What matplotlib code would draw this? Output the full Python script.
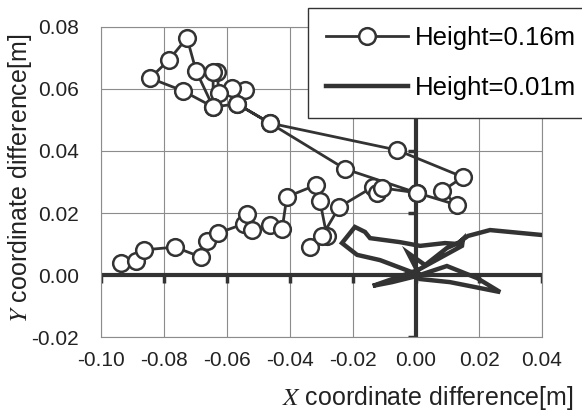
import matplotlib
matplotlib.use("Agg")
import matplotlib.pyplot as plt
from matplotlib.ticker import FormatStrFormatter

plt.rcParams['font.family'] = ['Liberation Sans', 'DejaVu Sans']
plt.rcParams['mathtext.fontset'] = 'stix'

# Height=0.16m (open circles)
x_016 = [-0.0937, -0.0889, -0.0864, -0.0765, -0.0683, -0.0664, -0.0629, -0.0546,
         -0.0537, -0.0521, -0.0464, -0.0425, -0.0410, -0.0318, -0.0305, -0.0283,
         -0.0337, -0.0298, -0.0244, -0.0137, -0.0124, -0.0108, 0.0003, 0.0130,
         0.0083, 0.0149, -0.0060, -0.0464, -0.0568, -0.0543, -0.0584, -0.0625,
         -0.0632, -0.0644, -0.0644, -0.0698, -0.0727, -0.0784, -0.0844, -0.0740,
         -0.0644, -0.0568, -0.0464, -0.0225, 0.0003]
y_016 = [0.0039, 0.0045, 0.0081, 0.0090, 0.0058, 0.0110, 0.0135, 0.0165,
         0.0197, 0.0145, 0.0161, 0.0148, 0.0252, 0.0290, 0.0239, 0.0126,
         0.0090, 0.0126, 0.0219, 0.0284, 0.0265, 0.0281, 0.0265, 0.0226,
         0.0271, 0.0316, 0.0403, 0.0490, 0.0552, 0.0597, 0.0603, 0.0587,
         0.0655, 0.0655, 0.0542, 0.0658, 0.0765, 0.0694, 0.0635, 0.0594,
         0.0542, 0.0552, 0.0490, 0.0342, 0.0265]

# Height=0.01m (thick line)
x_001 = [0.0003, -0.0114, -0.0187, -0.0235, -0.0194, -0.0162, -0.0146, -0.0051,
         0.0013, 0.0092, 0.0133, 0.0149, 0.0146, 0.0076, 0.0006, -0.0137,
         -0.0076, 0.0003, 0.0098, 0.0194, 0.0267, 0.0108, 0.0013, 0.0006,
         -0.0025, 0.0029, 0.0098, 0.0133, 0.0165, 0.0235, 0.0400]
y_001 = [0.0003, 0.0048, 0.0065, 0.0103, 0.0155, 0.0139, 0.0119, 0.0106,
         0.0094, 0.0103, 0.0100, 0.0116, 0.0094, 0.0055, 0.0016, -0.0035,
         -0.0023, -0.0003, 0.0029, -0.0010, -0.0055, -0.0023, -0.0013, 0.0010,
         0.0071, 0.0032, 0.0087, 0.0103, 0.0126, 0.0145, 0.0129]

xticks = [-0.10, -0.08, -0.06, -0.04, -0.02, 0.00, 0.02, 0.04]
yticks = [-0.02, 0.00, 0.02, 0.04, 0.06, 0.08]

ink = '#333333'
gridc = '#8c8c8c'

fig = plt.figure(figsize=(5.82, 4.12), dpi=100)
ax = fig.add_axes([0.1735, 0.182, 0.7578, 0.7525])

ax.set_xlim(-0.10, 0.04)
ax.set_ylim(-0.02, 0.08)
ax.set_xticks(xticks)
ax.set_yticks(yticks)
ax.xaxis.set_major_formatter(FormatStrFormatter('%.2f'))
ax.yaxis.set_major_formatter(FormatStrFormatter('%.2f'))
ax.grid(True, color=gridc, lw=0.8)
ax.set_axisbelow(True)
for s in ax.spines.values():
    s.set_color(gridc)
    s.set_linewidth(0.8)
ax.tick_params(length=0, labelsize=15, colors='#222222')
ax.tick_params(axis='y', pad=16)
ax.tick_params(axis='x', pad=10)

# zero axes with small tick stubs
ax.axhline(0, color=ink, lw=3, zorder=2)
ax.axvline(0, color=ink, lw=3, zorder=2)
ax.plot(xticks, [0] * len(xticks), ls='none', marker=3, ms=6, mew=2.5, color=ink, zorder=2)
ax.plot([0] * len(yticks), yticks, ls='none', marker=0, ms=6, mew=2.5, color=ink, zorder=2)

ax.plot(x_001, y_001, color=ink, lw=3.2, solid_joinstyle='miter', zorder=3,
        label='Height=0.01m')
ax.plot(x_016, y_016, color=ink, lw=2, marker='o', ms=12, mfc='white', mec=ink,
        mew=1.8, zorder=4, label='Height=0.16m')

h, l = ax.get_legend_handles_labels()
leg = fig.legend(h[::-1], l[::-1], loc='upper left',
                 bbox_to_anchor=(308 / 582, 1 - 8 / 412), fontsize=18.5,
                 frameon=True, fancybox=False, framealpha=1, edgecolor=ink,
                 handlelength=3.2, handletextpad=0.27, labelspacing=1.0,
                 borderpad=0.7, numpoints=1, borderaxespad=0)
leg.get_frame().set_linewidth(1)

fig.text(573 / 582, 1 - 398 / 412, '$X$ coordinate difference[m]',
         ha='right', va='center', fontsize=18, color='#222222')
fig.text(20 / 582, 1 - 178 / 412, '$Y$ coordinate difference[m]',
         ha='center', va='center', rotation=90, fontsize=18, color='#222222')

fig.savefig('out.png', dpi=100)
